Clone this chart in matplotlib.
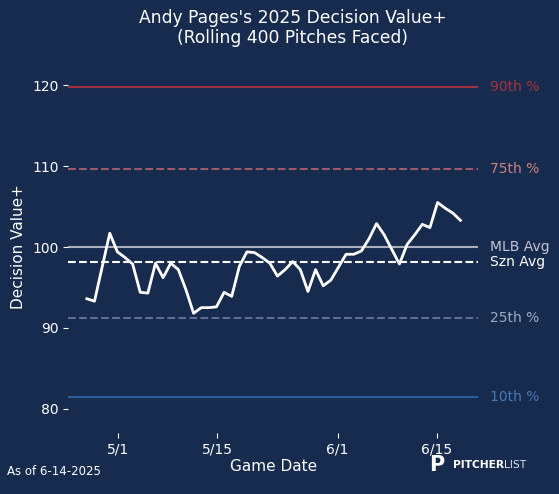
import matplotlib
matplotlib.use("Agg")
import matplotlib.pyplot as plt
import matplotlib.transforms as mtransforms
import numpy as np

# rolling decision value+ per game
dv_plus = [93.6, 93.3, 97.5, 101.7, 99.4, 98.7, 97.9, 94.4, 94.3, 98.0,
           96.2, 98.0, 97.2, 94.7, 91.8, 92.5, 92.5, 92.6, 94.4, 93.9,
           97.6, 99.4, 99.3, 98.7, 98.0, 96.4, 97.2, 98.2, 97.2, 94.5,
           97.2, 95.2, 95.9, 97.5, 99.1, 99.1, 99.5, 101.0, 102.9, 101.5,
           99.7, 97.9, 100.3, 101.5, 102.8, 102.4, 105.5, 104.8, 104.2, 103.3]
games = np.arange(len(dv_plus))

ref_names = ["90th %", "75th %", "MLB Avg", "Szn Avg", "25th %", "10th %"]
ref_values = [119.8, 109.7, 100.0, 98.1, 91.2, 81.4]

tick_pos = [4.1, 17.1, 32.9, 45.9]
tick_labels = ["5/1", "5/15", "6/1", "6/15"]

bg = "#172b4f"
line_col = ["#9c3340", "#9a5a6a", "#a9afbf", "#ffffff", "#5f6f92", "#2c5d9c"]
text_col = ["#a8323c", "#c98080", "#c3c7d3", "#ffffff", "#9fa9c0", "#4a78b3"]
line_sty = ["-", "--", "-", "--", "--", "-"]

fig = plt.figure(figsize=(5.59, 4.94), dpi=100, facecolor=bg)
ax = fig.add_axes([0.122, 0.1235, 0.733, 0.753])
ax.set_facecolor(bg)
for s in ax.spines.values():
    s.set_visible(False)

trans = mtransforms.blended_transform_factory(ax.transAxes, ax.transData)
for name, val, lc, tc, ls in zip(ref_names, ref_values, line_col, text_col, line_sty):
    ax.axhline(val, color=lc, lw=1.5, ls=ls, zorder=1)
    ax.text(1.03, val, name, transform=trans, color=tc, fontsize=10,
            va="center", ha="left")

ax.plot(games, dv_plus, color="white", lw=2, zorder=3)

ax.set_xlim(-2.45, 51.3)
ax.set_ylim(77, 123)
ax.set_yticks([80, 90, 100, 110, 120])
ax.set_xticks(tick_pos)
ax.set_xticklabels(tick_labels)
ax.tick_params(colors="white", labelsize=10)
ax.set_xlabel("Game Date", color="white", fontsize=11, labelpad=2)
ax.set_ylabel("Decision Value+", color="white", fontsize=11)

fig.text(0.524, 0.944, "Andy Pages's 2025 Decision Value+\n(Rolling 400 Pitches Faced)",
         ha="center", va="center", color="white", fontsize=12.3, linespacing=1.15)
fig.text(0.012, 0.045, "As of 6-14-2025", color="white", fontsize=8.5, ha="left", va="center")

# logo
fig.text(0.768, 0.058, "P", color="white", fontsize=15, fontweight="bold", ha="left", va="center")
pt = fig.text(0.81, 0.058, "PITCHER", color="white", fontsize=7.7, fontweight="bold",
              ha="left", va="center")
ax.annotate("LIST", xy=(1, 0.5), xycoords=pt, color="#dfe3ea", fontsize=7.7,
            ha="left", va="center", annotation_clip=False)

fig.savefig("out.png", dpi=100, facecolor=bg)
